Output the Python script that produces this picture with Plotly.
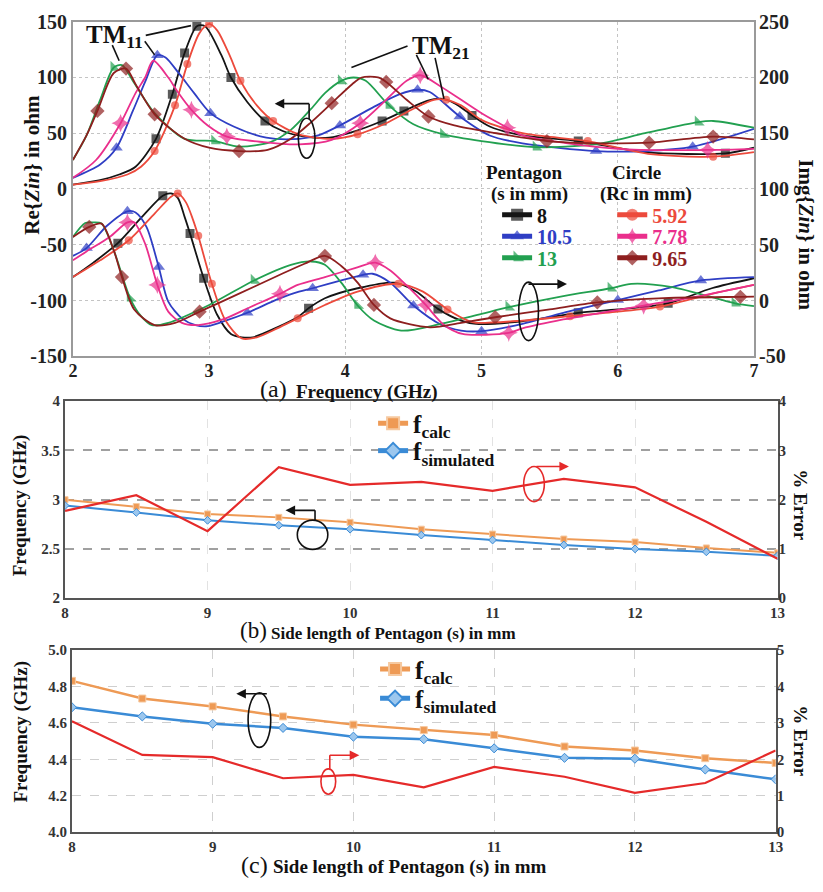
import plotly.graph_objects as go

W, H = 823, 892


def PX(x):
    return x / W


def PY(y):
    return 1 - y / H


SERIF = "Liberation Serif"

# ---------------- Panel (a): Re{Zin} (left axis, ohm) ----------------
re_black_f = [2.0, 2.2, 2.34, 2.46, 2.61, 2.73, 2.82, 2.91, 2.97, 3.09, 3.16, 3.28, 3.41, 3.54, 3.7, 3.88, 4.05, 4.27, 4.43, 4.6, 4.7, 4.8, 4.93, 5.06, 5.3, 5.71, 6.2, 6.79, 7.0]
re_black_v = [4, 8, 13, 20, 45, 85, 122, 146, 146, 120, 100, 78, 61, 52, 47, 46, 51, 61, 70, 79, 81, 77, 66, 56, 48, 43, 33, 32, 37]
re_black_mk = [2.61, 2.73, 2.82, 2.91, 3.16, 3.41, 4.27, 4.43, 4.93, 5.71, 6.79]

re_red_f = [2.0, 2.2, 2.4, 2.5, 2.6, 2.75, 2.84, 2.93, 3.0, 3.06, 3.15, 3.23, 3.35, 3.47, 3.66, 3.9, 4.09, 4.3, 4.5, 4.65, 4.74, 4.85, 5.0, 5.3, 5.78, 6.0, 6.26, 6.7, 7.0]
re_red_v = [4, 7, 13, 20, 34, 75, 112, 140, 148, 142, 120, 97, 75, 61, 49, 45, 49, 59, 72, 80, 80, 75, 62, 50, 43, 37, 31, 29, 33]
re_red_mk = [2.6, 2.75, 2.84, 3.0, 3.23, 3.47, 4.09, 4.74, 5.78, 6.7]

re_green_f = [2.0, 2.1, 2.2, 2.3, 2.36, 2.45, 2.6, 2.82, 3.04, 3.22, 3.45, 3.6, 3.75, 3.85, 3.97, 4.06, 4.15, 4.32, 4.5, 4.72, 5.0, 5.4, 5.83, 6.2, 6.59, 6.7, 7.0]
re_green_v = [26, 48, 80, 109, 111, 95, 68, 45, 43, 38, 42, 53, 72, 86, 97, 100, 97, 75, 58, 49, 43, 37.5, 40, 50, 60, 61, 55]
re_green_mk = [2.3, 3.04, 3.97, 4.32, 4.72, 5.4, 6.59]

re_brown_f = [2.0, 2.1, 2.18, 2.3, 2.39, 2.46, 2.6, 2.82, 3.0, 3.22, 3.43, 3.6, 3.75, 3.9, 4.05, 4.12, 4.24, 4.3, 4.45, 4.61, 4.8, 5.11, 5.48, 5.9, 6.23, 6.7, 7.0]
re_brown_v = [26, 48, 70, 104, 108, 94, 67, 45, 37, 34, 35, 45, 60, 77, 94, 100, 100, 96, 80, 65, 57, 50, 43, 41, 41.5, 47, 44.5]
re_brown_mk = [2.18, 2.39, 2.6, 3.22, 3.9, 4.3, 4.61, 5.48, 6.23, 6.7]

re_blue_f = [2.0, 2.2, 2.32, 2.44, 2.53, 2.62, 2.68, 2.77, 2.89, 3.01, 3.18, 3.42, 3.66, 3.8, 3.96, 4.2, 4.4, 4.53, 4.62, 4.84, 5.06, 5.3, 5.84, 6.2, 6.55, 7.0]
re_blue_v = [10, 22, 37, 70, 96, 120, 118, 105, 86, 68, 56, 46, 45, 48, 57, 73, 85, 89, 87, 65, 48, 41, 34, 34, 38, 54]
re_blue_mk = [2.32, 2.62, 3.01, 3.96, 4.53, 4.84, 5.84, 6.55]

re_pink_f = [2.0, 2.17, 2.35, 2.46, 2.53, 2.59, 2.7, 2.77, 2.87, 2.99, 3.13, 3.4, 3.66, 3.9, 4.11, 4.3, 4.45, 4.55, 4.7, 5.0, 5.19, 5.3, 6.0, 6.66, 7.0]
re_pink_v = [10, 26, 59, 86, 100, 115, 100, 87, 71, 57, 47, 42, 40, 44, 59, 80, 97, 102, 92, 68, 55, 48, 36, 35, 36]
re_pink_mk = [2.35, 2.87, 3.13, 4.11, 4.55, 5.19, 6.66]

# ---------------- Panel (a): Img{Zin} (right axis, ohm) ----------------
im_black_f = [2.0, 2.15, 2.33, 2.5, 2.66, 2.72, 2.77, 2.82, 2.86, 2.96, 3.06, 3.16, 3.24, 3.32, 3.5, 3.66, 3.73, 3.85, 4.09, 4.36, 4.52, 4.68, 4.85, 4.96, 5.3, 5.71, 6.0, 6.37, 6.69, 7.0]
im_black_v = [21, 34, 51.4, 74, 94, 96, 92, 75, 60, 20, -13, -30, -33, -33, -24, -14, -7, 2, 11, 16, 8, -7.5, -18, -21, -18.6, -11, -8, -2.5, 11, 20]
im_black_mk = [2.33, 2.66, 2.86, 2.96, 3.73, 4.68, 5.71, 6.37]

im_red_f = [2.0, 2.2, 2.41, 2.6, 2.72, 2.77, 2.83, 2.88, 2.92, 3.02, 3.12, 3.24, 3.35, 3.5, 3.65, 3.85, 4.09, 4.39, 4.57, 4.75, 4.9, 4.96, 5.3, 5.65, 6.0, 6.31, 6.69, 7.0]
im_red_v = [21, 36, 54, 78, 93, 96, 88, 73, 58, 15, -18, -34, -33, -25, -16, -4, 8, 15, 8, -8, -18, -20, -18, -14, -10, -5.4, 6, 14]
im_red_mk = [2.41, 2.77, 2.92, 3.02, 3.65, 4.39, 4.75, 5.65, 6.31]

im_green_f = [2.0, 2.09, 2.15, 2.21, 2.3, 2.42, 2.5, 2.58, 2.7, 3.0, 3.33, 3.6, 3.75, 3.85, 3.97, 4.09, 4.21, 4.41, 4.7, 5.0, 5.2, 5.6, 5.95, 6.1, 6.4, 6.86, 7.0]
im_green_v = [57, 69.5, 70, 69, 45, 2, -14, -22, -20, -4, 18, 32, 35, 32, 16, -4.5, -18, -27, -21, -12, -6, 4, 11, 15, 12, -2.5, -5]
im_green_mk = [2.42, 3.33, 4.09, 5.2, 5.95, 6.86]

im_brown_f = [2.0, 2.12, 2.21, 2.3, 2.36, 2.45, 2.6, 2.75, 2.93, 3.2, 3.5, 3.7, 3.85, 3.97, 4.09, 4.21, 4.33, 4.62, 4.85, 5.1, 5.5, 5.85, 6.3, 6.9, 7.0]
im_brown_v = [57, 66, 69, 45, 21, -8, -22, -20, -10, 5, 22, 33, 40, 31, 16, -4, -16, -24, -20, -15, -8, -1.7, 2, 3.3, 3.5]
im_brown_mk = [2.12, 2.36, 2.93, 3.85, 4.21, 5.1, 5.85, 6.9]

im_blue_f = [2.0, 2.1, 2.25, 2.4, 2.46, 2.54, 2.63, 2.7, 2.8, 2.9, 2.99, 3.1, 3.28, 3.5, 3.66, 3.76, 3.97, 4.13, 4.2, 4.33, 4.5, 4.7, 4.85, 5.0, 5.3, 5.6, 6.0, 6.3, 6.61, 7.0]
im_blue_v = [40, 47, 67, 80, 79, 66, 30, -1, -16, -22, -23, -19, -11, 1, 8, 11, 18, 23, 24, 16, -4.5, -21.5, -27, -27.5, -21, -11, 0.4, 9, 18, 21]
im_blue_mk = [2.1, 2.4, 2.63, 3.28, 3.76, 4.13, 4.5, 5.0, 6.0, 6.61]

im_pink_f = [2.0, 2.1, 2.27, 2.4, 2.45, 2.53, 2.62, 2.7, 2.8, 2.92, 3.1, 3.3, 3.52, 3.65, 3.85, 4.07, 4.22, 4.33, 4.45, 4.59, 4.72, 4.86, 5.2, 5.3, 5.6, 6.19, 6.6, 7.0]
im_pink_v = [36, 44, 57, 70, 70, 51, 14, -10, -20, -22, -17, -6, 6, 14, 21, 29, 34, 27, 13.5, -4, -21.5, -30, -29, -25, -17, -4.5, 4, 14]
im_pink_mk = [2.4, 2.62, 3.52, 4.22, 4.59, 5.2, 6.19]

a_xticks = [2, 3, 4, 5, 6, 7]
a_yticks_left = [-150, -100, -50, 0, 50, 100, 150]
a_yticks_right = [-50, 0, 50, 100, 150, 200, 250]

# ---------------- Panel (b) ----------------
s_vals = [8, 8.5, 9, 9.5, 10, 10.5, 11, 11.5, 12, 12.5, 13]
b_fcalc = [3.00, 2.93, 2.855, 2.82, 2.77, 2.70, 2.65, 2.60, 2.57, 2.51, 2.46]
b_fsim = [2.94, 2.87, 2.79, 2.74, 2.70, 2.64, 2.59, 2.54, 2.50, 2.47, 2.43]
b_err = [1.77, 2.09, 1.36, 2.66, 2.30, 2.36, 2.18, 2.42, 2.25, 1.55, 0.80]
b_yticks_left = [2, 2.5, 3, 3.5, 4]
b_yticks_right = [0, 1, 2, 3, 4]

# ---------------- Panel (c) ----------------
c_fcalc = [4.83, 4.733, 4.69, 4.635, 4.59, 4.56, 4.533, 4.47, 4.448, 4.406, 4.38]
c_fsim = [4.685, 4.635, 4.595, 4.572, 4.524, 4.51, 4.46, 4.408, 4.403, 4.344, 4.29]
c_err = [3.04, 2.12, 2.06, 1.48, 1.57, 1.23, 1.79, 1.52, 1.08, 1.35, 2.24]
c_yticks_left = [4.0, 4.2, 4.4, 4.6, 4.8, 5.0]
c_yticks_right = [0, 1, 2, 3, 4, 5]
bc_xticks = [8, 9, 10, 11, 12, 13]

# ---------------- styles ----------------
C_BLACK = "#151515"
C_BLUE = "#2f3ec4"
C_GREEN = "#22a050"
C_RED = "#ec4a3c"
C_PINK = "#ea2f8c"
C_BROWN = "#8e1f1f"
C_ORANGE = "#ee9a55"
C_LBLUE = "#3a8bd6"
C_ERR = "#e52a2a"


def msizes(fs, mk, size):
    return [size if any(abs(f - m) < 1e-9 for m in mk) else 0 for f in fs]


fig = go.Figure()
legends = {}


def add_legend(key, x_text, y_center, size):
    legends[key] = dict(x=PX(x_text - 40), y=PY(y_center), xanchor="left", yanchor="middle",
                        bgcolor="rgba(0,0,0,0)", itemsizing="constant",
                        font=dict(family=SERIF, size=size, weight="bold", color="#111"))


series = [
    # name, color, symbol, msize, re_f, re_v, re_mk, im_f, im_v, im_mk, legend text x, legend y
    ("8", C_BLACK, "square", 9, re_black_f, re_black_v, re_black_mk, im_black_f, im_black_v, im_black_mk, 540, 209),
    ("10.5", C_BLUE, "triangle-up", 11, re_blue_f, re_blue_v, re_blue_mk, im_blue_f, im_blue_v, im_blue_mk, 540, 231),
    ("13", C_GREEN, "triangle-sw", 11, re_green_f, re_green_v, re_green_mk, im_green_f, im_green_v, im_green_mk, 540, 253),
    ("5.92", C_RED, "circle", 8, re_red_f, re_red_v, re_red_mk, im_red_f, im_red_v, im_red_mk, 657, 209),
    ("7.78", C_PINK, "star-diamond", 13, re_pink_f, re_pink_v, re_pink_mk, im_pink_f, im_pink_v, im_pink_mk, 657, 231),
    ("9.65", C_BROWN, "diamond", 11, re_brown_f, re_brown_v, re_brown_mk, im_brown_f, im_brown_v, im_brown_mk, 657, 253),
]

for i, (name, col, sym, ms, rf, rv, rmk, imf, imv, immk, lx, ly) in enumerate(series):
    key = "legend" if i == 0 else "legend%d" % (i + 1)
    add_legend(key, lx, ly, 20)
    fig.add_trace(go.Scatter(
        x=rf, y=rv, mode="lines+markers", xaxis="x", yaxis="y",
        line=dict(color=col, width=1.8, shape="spline", smoothing=0.8),
        marker=dict(symbol=sym, size=msizes(rf, rmk, ms), color=col, line=dict(width=0)),
        name="<span style='color:%s'>%s</span>" % (col, name), legend=key, showlegend=True,
    ))
    fig.add_trace(go.Scatter(
        x=imf, y=imv, mode="lines+markers", xaxis="x", yaxis="y2",
        line=dict(color=col, width=1.8, shape="spline", smoothing=0.8),
        marker=dict(symbol=sym, size=msizes(imf, immk, ms), color=col, line=dict(width=0)),
        showlegend=False, legend=key,
    ))

# panel (b)
add_legend("legend7", 414, 423, 25)
add_legend("legend8", 414, 451, 25)
fig.add_trace(go.Scatter(x=s_vals, y=b_fcalc, mode="lines+markers", xaxis="x2", yaxis="y3",
                         line=dict(color=C_ORANGE, width=2),
                         marker=dict(symbol="square", size=6, color=C_ORANGE, line=dict(color="#f6c9a0", width=1)),
                         name="f<sub>calc</sub>", legend="legend7"))
fig.add_trace(go.Scatter(x=s_vals, y=b_fsim, mode="lines+markers", xaxis="x2", yaxis="y3",
                         line=dict(color=C_LBLUE, width=2),
                         marker=dict(symbol="diamond", size=6, color="#9cc7ee", line=dict(color=C_LBLUE, width=1)),
                         name="f<sub>simulated</sub>", legend="legend8"))
fig.add_trace(go.Scatter(x=s_vals, y=b_err, mode="lines", xaxis="x2", yaxis="y4",
                         line=dict(color=C_ERR, width=2.2), showlegend=False))

# panel (c)
add_legend("legend9", 416, 675, 25)
add_legend("legend10", 416, 705, 25)
fig.add_trace(go.Scatter(x=s_vals, y=c_fcalc, mode="lines+markers", xaxis="x3", yaxis="y5",
                         line=dict(color=C_ORANGE, width=2.5),
                         marker=dict(symbol="square", size=7, color=C_ORANGE, line=dict(color="#f6c9a0", width=1)),
                         name="f<sub>calc</sub>", legend="legend9"))
fig.add_trace(go.Scatter(x=s_vals, y=c_fsim, mode="lines+markers", xaxis="x3", yaxis="y5",
                         line=dict(color=C_LBLUE, width=2.5),
                         marker=dict(symbol="diamond", size=7, color="#9cc7ee", line=dict(color=C_LBLUE, width=1)),
                         name="f<sub>simulated</sub>", legend="legend10"))
fig.add_trace(go.Scatter(x=s_vals, y=c_err, mode="lines", xaxis="x3", yaxis="y6",
                         line=dict(color=C_ERR, width=2.2), showlegend=False))


def fmt(v, dec=0):
    return "%.*f" % (dec, v)


tf_a = dict(family=SERIF, size=20, color="#222", weight="bold")
tf_ax = dict(family=SERIF, size=18, color="#222", weight="bold")
tf_b = dict(family=SERIF, size=15, color="#333", weight="bold")

fig.update_layout(
    width=W, height=H, margin=dict(l=0, r=0, t=0, b=0),
    paper_bgcolor="white", plot_bgcolor="white",
    xaxis=dict(domain=[PX(69), PX(761)], anchor="y", range=[2, 7], tickvals=a_xticks,
               ticktext=[fmt(v) for v in a_xticks], showgrid=True, gridcolor="#c4c4c4", griddash="dot",
               gridwidth=1, showline=True, linecolor="#9a9a9a", linewidth=2, mirror=True, ticks="",
               tickfont=tf_ax, zeroline=False, ticklabelstandoff=-3),
    yaxis=dict(domain=[PY(354), PY(11)], anchor="x", range=[-150, 150], tickvals=a_yticks_left,
               ticktext=[fmt(v) for v in a_yticks_left], showgrid=True, gridcolor="#c4c4c4", griddash="dot",
               showline=True, linecolor="#9a9a9a", linewidth=2, mirror=True, ticks="", tickfont=tf_a,
               zeroline=False),
    yaxis2=dict(overlaying="y", side="right", anchor="x", range=[-50, 250], tickvals=a_yticks_right,
                ticktext=[fmt(v) for v in a_yticks_right], showgrid=False, zeroline=False, showline=False,
                ticks="", tickfont=tf_a, ticklabelstandoff=4),
    xaxis2=dict(domain=[PX(61), PX(785)], anchor="y3", range=[8, 13], tickvals=bc_xticks,
                ticktext=[fmt(v) for v in bc_xticks], showgrid=True, gridcolor="#e2e2e2", griddash="dash",
                showline=True, linecolor="#555", linewidth=2, mirror=True, ticks="", tickfont=tf_b,
                zeroline=False),
    yaxis3=dict(domain=[PY(602), PY(400)], anchor="x2", range=[2, 4], tickvals=b_yticks_left,
                ticktext=["2", "2.5", "3", "3.5", "4"], showgrid=True, gridcolor="#a0a0a0", griddash="dash",
                gridwidth=1.5, showline=True, linecolor="#555", linewidth=2, mirror=True, ticks="",
                tickfont=tf_b, zeroline=False),
    yaxis4=dict(overlaying="y3", side="right", anchor="x2", range=[0, 4], tickvals=b_yticks_right,
                ticktext=[fmt(v) for v in b_yticks_right], showgrid=False, zeroline=False, showline=False,
                ticks="", tickfont=tf_b),
    xaxis3=dict(domain=[PX(68), PX(783)], anchor="y5", range=[8, 13], tickvals=bc_xticks,
                ticktext=[fmt(v) for v in bc_xticks], showgrid=True, gridcolor="#cfcfcf", griddash="dash",
                showline=True, linecolor="#555", linewidth=2, mirror=True, ticks="", tickfont=tf_b,
                zeroline=False),
    yaxis5=dict(domain=[PY(842), PY(655)], anchor="x3", range=[4, 5], tickvals=c_yticks_left,
                ticktext=[fmt(v, 1) for v in c_yticks_left], showgrid=True, gridcolor="#cfcfcf",
                griddash="dash", gridwidth=1.2, showline=True, linecolor="#555", linewidth=2, mirror=True,
                ticks="", tickfont=tf_b, zeroline=False),
    yaxis6=dict(overlaying="y5", side="right", anchor="x3", range=[0, 5], tickvals=c_yticks_right,
                ticktext=[fmt(v) for v in c_yticks_right], showgrid=False, zeroline=False, showline=False,
                ticks="", tickfont=tf_b),
    **legends,
)

# ---------- decorations (annotations, ellipses, arrows) ----------
ann = []
shp = []


def text(x, y, s, size, bold=True, angle=0, xanchor="center", color="#111"):
    ann.append(dict(x=PX(x), y=PY(y), xref="paper", yref="paper", text=s, showarrow=False,
                    textangle=angle, xanchor=xanchor, yanchor="middle",
                    font=dict(family=SERIF, size=size, color=color, weight="bold" if bold else "normal")))


def seg(x0, y0, x1, y1, color="#111", w=1.6):
    shp.append(dict(type="line", xref="paper", yref="paper", x0=PX(x0), y0=PY(y0), x1=PX(x1), y1=PY(y1),
                    line=dict(color=color, width=w)))


def ell(x0, y0, x1, y1, color="#111", w=1.6):
    shp.append(dict(type="circle", xref="paper", yref="paper", x0=PX(x0), y0=PY(y1), x1=PX(x1), y1=PY(y0),
                    line=dict(color=color, width=w)))


def arrow(xh, yh, dx, color="#111", w=1.6):
    ann.append(dict(x=PX(xh), y=PY(yh), xref="paper", yref="paper", ax=dx, ay=0, axref="pixel",
                    ayref="pixel", text="", showarrow=True, arrowhead=2, arrowsize=1.2, arrowwidth=w,
                    arrowcolor=color))


# legend headers (panel a)
text(527, 166, "Pentagon", 19)
text(533, 188, "(s in mm)", 19)
text(642, 166, "Circle", 19)
text(651, 188, "(Rc in mm)", 19)

# axis titles
text(28, 158, "Re{<i>Zin</i>} in ohm", 21, angle=-90)
text(814, 229, "Img{<i>Zin</i>} in ohm", 21, angle=90)
text(273, 388, "(a)", 24, bold=False)
text(294, 391, "Frequency (GHz)", 19, xanchor="left")

text(16, 507, "Frequency (GHz)", 19, angle=-90)
text(808, 506, "% Error", 19, angle=90)
text(252, 635, "(b)", 23, bold=False)
text(268, 638, "Side length of Pentagon (s) in mm", 17, xanchor="left")

text(16, 739, "Frequency (GHz)", 19, angle=-90)
text(808, 748, "% Error", 19, angle=90)
text(253, 876, "(c)", 24, bold=False)
text(270, 878, "Side length of Pentagon (s) in mm", 19, xanchor="left")

# TM labels
text(80, 26, "TM<sub>11</sub>", 25, xanchor="left")
seg(143, 25, 189, 15)
seg(109, 35, 116, 51)
seg(142, 31, 152, 45)
text(412, 37, "TM<sub>21</sub>", 25, xanchor="left")
seg(409, 36, 352, 58)
seg(418, 45, 430, 70)
seg(437, 48, 446, 90)

# ellipses & arrows panel (a)
ell(298, 110, 315, 151)
seg(309, 111, 309, 95)
arrow(274, 95, 36)
ell(522, 278, 542, 338)
arrow(571, 280, -40)

# panel (b)
ell(297, 522, 328, 552)
seg(315, 522, 315, 512)
arrow(285, 512, 31)
ell(527, 467, 548, 503, color=C_ERR)
arrow(573, 467, -34, color=C_ERR)

# panel (c)
ell(247, 699, 270, 755)
arrow(235, 700, 32)
ell(321, 777, 336, 803, color=C_ERR)
seg(330, 777, 330, 763, color=C_ERR)
arrow(360, 763, -31, color=C_ERR)

fig.update_layout(annotations=ann, shapes=shp)

fig.write_html("out.html")
